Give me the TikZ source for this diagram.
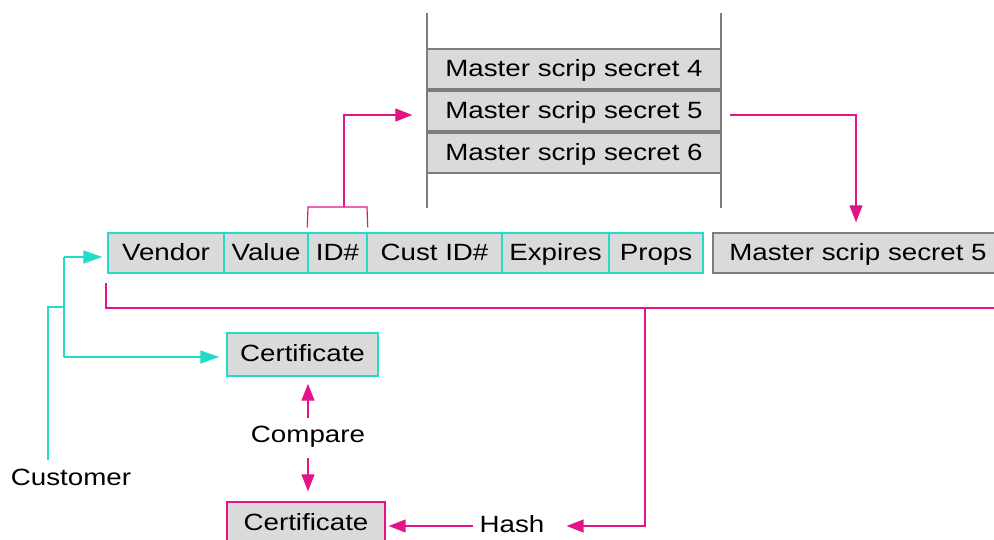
\documentclass[tikz,border=0pt]{standalone}
\usepackage{fontspec}
\setmainfont[FakeStretch=1.18]{Liberation Sans}
\usetikzlibrary{arrows.meta}
\definecolor{cyanline}{RGB}{34,220,200}
\definecolor{pinkline}{RGB}{226,20,135}
\definecolor{cellfill}{RGB}{218,218,218}
\definecolor{cellgrey}{RGB}{125,125,125}
\begin{document}
\begin{tikzpicture}[x=1pt,y=-1pt,
  font=\fontsize{23.5}{27}\selectfont,
  box/.style={fill=cellfill, line width=1.4pt, inner sep=0pt,
    text height=17pt, text depth=3pt, minimum height=40pt},
  cyancell/.style={box, draw=cyanline},
  greycell/.style={box, draw=cellgrey},
  pinkcell/.style={box, draw=pinkline},
  label/.style={inner sep=0pt, text height=17pt, text depth=3pt},
  cyanwire/.style={draw=cyanline, line width=1.3pt},
  pinkwire/.style={draw=pinkline, line width=1.2pt},
  cyanarrow/.style={cyanwire, -{Triangle[length=19pt,width=13pt]}},
  pinkarrow/.style={pinkwire, -{Triangle[length=17pt,width=13pt]}}]
\path[use as bounding box] (0,0) rectangle (994,539);
\clip (0,0) rectangle (994,539);

% key store: rails and three master secrets
\coordinate (railLtop) at (427,13);
\coordinate (railLbot) at (427,208);
\coordinate (railRtop) at (721,13);
\coordinate (railRbot) at (721,208);
\draw[draw=cellgrey, line width=1.3pt] (railLtop) -- (railLbot);
\draw[draw=cellgrey, line width=1.3pt] (railRtop) -- (railRbot);
\node[greycell, minimum width=294pt] (m4) at (574,69) {Master scrip secret 4};
\node[greycell, minimum width=294pt] (m5) at (574,111) {Master scrip secret 5};
\node[greycell, minimum width=294pt] (m6) at (574,153) {Master scrip secret 6};

% scrip record
\node[cyancell, minimum width=116pt] (vendor) at (166,253) {Vendor};
\node[cyancell, minimum width=84pt] (value) at (266,253) {Value};
\node[cyancell, minimum width=59pt] (id) at (337.5,253) {ID\#};
\node[cyancell, minimum width=135pt] (cust) at (434.5,253) {Cust ID\#};
\node[cyancell, minimum width=107pt] (expires) at (555.5,253) {Expires};
\node[cyancell, minimum width=94pt] (props) at (656,253) {Props};

% selected secret
\node[greycell, minimum width=290pt] (sel) at (858,253) {Master scrip secret 5};

% certificates and labels
\node[cyancell, minimum width=151pt, minimum height=43pt] (certA) at (302.5,354.5) {Certificate};
\node[pinkcell, minimum width=158pt, minimum height=43pt] (certB) at (306,523.5) {Certificate};
\node[label] (compare) at (308,435) {Compare};
\node[label] (hash) at (512,525.5) {Hash};
\node[label] (customer) at (71,478) {Customer};

% ID# selects the master secret
\coordinate (brL) at (308,207);
\coordinate (brR) at (367,207);
\coordinate (brM) at (344,207);
\coordinate (brUp) at (344,115);
\draw[pinkwire] ([yshift=5pt]id.north west) -- (brL) -- (brR) -- ([yshift=5pt]id.north east);
\draw[pinkarrow] (brM) -- (brUp) -- ([xshift=-14pt,yshift=-4pt]m5.west);

% chosen secret copied out
\coordinate (outTurn) at (856,115);
\draw[pinkarrow] ([xshift=8pt,yshift=-4pt]m5.east) -- (outTurn) -- ([yshift=10pt]sel.north -| outTurn);

% record plus secret feed the hash
\coordinate (busStart) at (106,283);
\coordinate (busLeft) at (106,308);
\coordinate (busRight) at (1000,308);
\coordinate (busTap) at (645,308);
\coordinate (busDown) at (645,526);
\draw[pinkwire] (busStart) -- (busLeft) -- (busRight);
\draw[pinkarrow] (busTap) -- (busDown) -- ([xshift=22pt]hash.east |- busDown);
\draw[pinkarrow] ([xshift=-6pt]hash.west |- busDown) -- ([xshift=3pt]certB.east |- busDown);

% comparison of the two certificates
\draw[pinkarrow] ([yshift=7pt]compare.north) -- ([yshift=-7pt]compare.north |- certA.south);
\draw[pinkarrow] ([yshift=-13pt]compare.south) -- ([yshift=10pt]compare.south |- certB.north);

% customer supplies scrip and certificate
\coordinate (custTop) at (48,307);
\coordinate (custJoin) at (64,307);
\coordinate (forkTop) at (64,257);
\coordinate (forkBot) at (64,357);
\draw[cyanwire] ([yshift=8pt]customer.north -| custTop) -- (custTop) -- (custJoin);
\draw[cyanwire] (forkTop) -- (forkBot);
\draw[cyanarrow] (forkTop) -- ([xshift=-5pt]vendor.west |- forkTop);
\draw[cyanarrow] (forkBot) -- ([xshift=-7pt]certA.west |- forkBot);
\end{tikzpicture}
\end{document}
